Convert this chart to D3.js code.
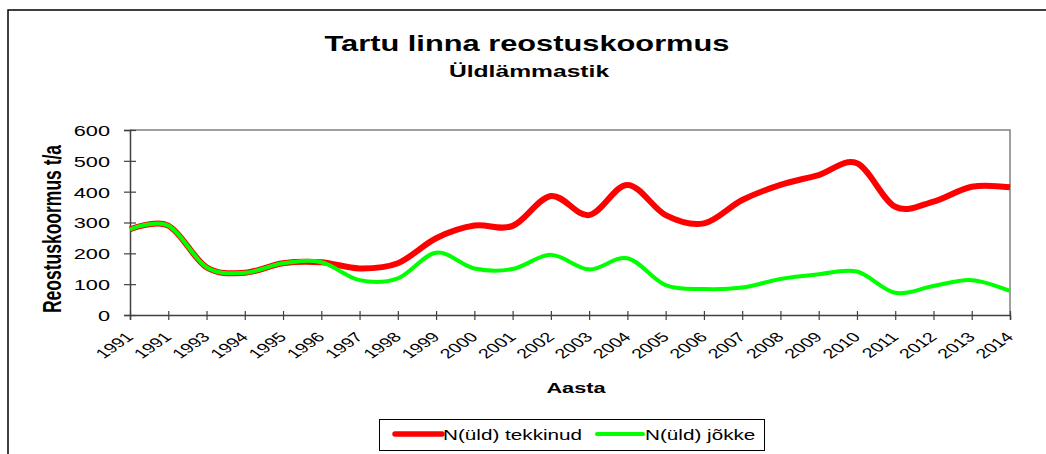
<!DOCTYPE html>
<html>
<head>
<meta charset="utf-8">
<script src="https://cdn.jsdelivr.net/npm/d3@7"></script>
<style>
  html, body { margin: 0; padding: 0; background: #ffffff; }
  svg { display: block; }
  text { font-family: "Liberation Sans", Arial, sans-serif; }
</style>
</head>
<body>
<svg id="chart" width="1046" height="454"></svg>
<script>
// ---- Data ----
const years = ["1991","1991","1993","1994","1995","1996","1997","1998","1999","2000","2001","2002","2003","2004","2005","2006","2007","2008","2009","2010","2011","2012","2013","2014"];
const tekkinud = [278, 290, 155, 137, 168, 171, 151, 168, 249, 290, 289, 386, 324, 422, 324, 297, 373, 422, 454, 492, 351, 368, 416, 414];
const jokke    = [278, 290, 155, 137, 168, 171, 113, 119, 202, 151, 149, 195, 148, 184,  97,  84,  89, 117, 132, 141,  72,  94, 113,  78];
const yTicks = [0, 100, 200, 300, 400, 500, 600];
const seriesNames = ["N(üld) tekkinud", "N(üld) jõkke"];
const titleText = "Tartu linna reostuskoormus";
const subtitleText = "Üldlämmastik";
const yTitle = "Reostuskoormus t/a";
const xTitle = "Aasta";

// ---- Layout ----
const SX = 1.45; // horizontal stretch of the original picture's text
const svg = d3.select("#chart");
const plot = { left: 130, right: 1010, top: 130, bottom: 315 };

const x = d3.scalePoint().domain(d3.range(years.length)).range([plot.left, plot.right]);
const y = d3.scaleLinear().domain([0, 600]).range([plot.bottom, plot.top]);

// outer frame
svg.append("rect").attr("x", 8).attr("y", 10).attr("width", 1100).attr("height", 500)
  .attr("fill", "#fff").attr("stroke", "#000").attr("stroke-width", 1.5);

// titles
svg.append("text").attr("transform", `translate(527,51) scale(1.4,1)`)
  .attr("text-anchor", "middle").attr("font-size", 22).attr("font-weight", "bold")
  .attr("fill", "#000").text(titleText);
svg.append("text").attr("transform", `translate(529,77) scale(${SX},1)`)
  .attr("text-anchor", "middle").attr("font-size", 17).attr("font-weight", "bold")
  .attr("fill", "#000").text(subtitleText);

// plot frame (top and right)
svg.append("path")
  .attr("d", `M${plot.left},${plot.top}H${plot.right}V${plot.bottom}`)
  .attr("fill", "none").attr("stroke", "#808080").attr("stroke-width", 1.5);

// y axis
const gy = svg.append("g").attr("transform", `translate(${plot.left},0)`)
  .call(d3.axisLeft(y).tickValues(yTicks).tickSize(6).tickFormat(d3.format("d")));
gy.select(".domain").attr("stroke", "#404040").attr("stroke-width", 1.5);
gy.selectAll(".tick line").attr("x1", -6).attr("x2", 6).attr("stroke", "#404040").attr("stroke-width", 1.2);
gy.selectAll(".tick text").attr("x", null).attr("dy", "0.36em")
  .attr("transform", `translate(-20,0) scale(${SX},1)`)
  .attr("font-size", 15).attr("fill", "#000").attr("font-family", "Liberation Sans, Arial, sans-serif");

// x axis
const gx = svg.append("g").attr("transform", `translate(0,${plot.bottom})`)
  .call(d3.axisBottom(x).tickSize(5).tickFormat(i => years[i]));
gx.select(".domain").attr("stroke", "#404040").attr("stroke-width", 1.5);
gx.selectAll(".tick line").attr("y1", -4).attr("y2", 5).attr("stroke", "#404040").attr("stroke-width", 1.2);
gx.selectAll(".tick text").attr("y", null).attr("dy", null)
  .attr("text-anchor", "end")
  .attr("transform", `translate(4,23) scale(${SX},1) rotate(-45)`)
  .attr("font-size", 13.5).attr("fill", "#000").attr("font-family", "Liberation Sans, Arial, sans-serif");

// axis titles
svg.append("text").attr("transform", `translate(61,229) scale(${SX},1) rotate(-90)`)
  .attr("text-anchor", "middle").attr("font-size", 17.5).attr("font-weight", "bold")
  .attr("fill", "#000").text(yTitle);
svg.append("text").attr("transform", `translate(576,393) scale(${SX},1)`)
  .attr("text-anchor", "middle").attr("font-size", 15).attr("font-weight", "bold")
  .attr("fill", "#000").text(xTitle);

// lines
const line = d3.line().x((d, i) => x(i)).y(d => y(d)).curve(d3.curveCardinal.tension(0));
svg.append("path").datum(tekkinud).attr("d", line)
  .attr("fill", "none").attr("stroke", "#ff0000").attr("stroke-width", 6)
  .attr("stroke-linejoin", "round").attr("stroke-linecap", "butt");
svg.append("path").datum(jokke).attr("d", line)
  .attr("fill", "none").attr("stroke", "#00ff00").attr("stroke-width", 4)
  .attr("stroke-linejoin", "round").attr("stroke-linecap", "butt");

// legend
const lg = svg.append("g");
lg.append("rect").attr("x", 379.5).attr("y", 419.5).attr("width", 385).attr("height", 31)
  .attr("fill", "#fff").attr("stroke", "#000").attr("stroke-width", 1);
const legendItems = [
  { name: seriesNames[0], color: "#ff0000", w: 5.5, x0: 395, x1: 442, tx: 443 },
  { name: seriesNames[1], color: "#00ff00", w: 4, x0: 597, x1: 643, tx: 645 }
];
legendItems.forEach(it => {
  lg.append("line").attr("x1", it.x0).attr("x2", it.x1).attr("y1", 434).attr("y2", 434)
    .attr("stroke", it.color).attr("stroke-width", it.w).attr("stroke-linecap", "round");
  lg.append("text").attr("transform", `translate(${it.tx},440) scale(1.38,1)`)
    .attr("font-size", 15).attr("fill", "#000").text(it.name);
});
</script>
</body>
</html>
